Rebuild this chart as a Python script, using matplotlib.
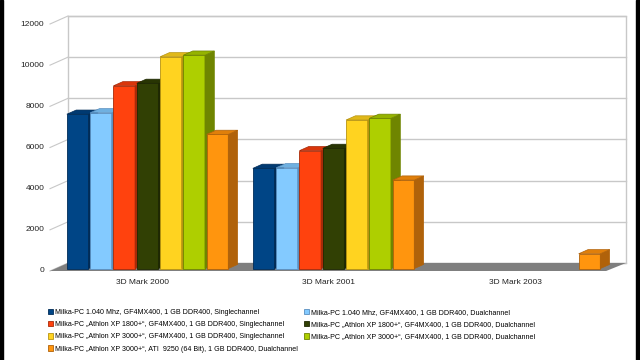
"""Pseudo-3D grouped bar chart: 3D Mark scores for several Milka-PC configurations."""
import matplotlib.pyplot as plt
from matplotlib.patches import Polygon, Rectangle

plt.rcParams["font.family"] = ["Liberation Sans", "DejaVu Sans"]

CATEGORIES = ["3D Mark 2000", "3D Mark 2001", "3D Mark 2003"]
SERIES = [
    "Milka-PC 1.040 Mhz, GF4MX400, 1 GB DDR400, Singlechannel",
    "Milka-PC 1.040 Mhz, GF4MX400, 1 GB DDR400, Dualchannel",
    "Milka-PC „Athlon XP 1800+“, GF4MX400, 1 GB DDR400, Singlechannel",
    "Milka-PC „Athlon XP 1800+“, GF4MX400, 1 GB DDR400, Dualchannel",
    "Milka-PC „Athlon XP 3000+“, GF4MX400, 1 GB DDR400, Singlechannel",
    "Milka-PC „Athlon XP 3000+“, GF4MX400, 1 GB DDR400, Dualchannel",
    "Milka-PC „Athlon XP 3000+“, ATI  9250 (64 Bit), 1 GB DDR400, Dualchannel",
]
VALUES = [
    [7500, 4870, 0],
    [7570, 4900, 0],
    [8880, 5730, 0],
    [9000, 5840, 0],
    [10290, 7220, 0],
    [10370, 7300, 0],
    [6520, 4300, 720],
]
FRONT = ["#004586", "#83caff", "#ff420e", "#314004", "#ffd320", "#aecf00", "#ff950e"]
TOP = ["#003a72", "#6fb0e0", "#d9360b", "#283503", "#e0b81a", "#95b300", "#e07f0a"]
SIDE = ["#002c58", "#5a8fbf", "#a82a08", "#1e2802", "#b89410", "#6f8500", "#b0620a"]
YTICKS = [0, 2000, 4000, 6000, 8000, 10000, 12000]

# depth of the chart box (data units) and the bars' place inside it
DX, DY = 0.097, 390
F0, F1 = 0.3, 0.82
PITCH = 0.1253
WIDTH = 0.116


def main():
    fig = plt.figure(figsize=(6.4, 3.6), dpi=100)
    fig.patch.set_facecolor("white")
    fig.patches.append(Rectangle((0, 0), 3 / 640, 1, transform=fig.transFigure,
                                 color="black", zorder=10))
    fig.patches.append(Rectangle((636 / 640, 0), 4 / 640, 1, transform=fig.transFigure,
                                 color="black", zorder=10))

    ax = fig.add_axes([50 / 640, 89 / 360, 558 / 640, 247 / 360])
    ax.set_xlim(0, 3)
    ax.set_ylim(0, 12000)
    ax.axis("off")

    # back wall with grid lines and left wall ticks
    ax.add_patch(Polygon([(DX, DY), (3 + DX, DY), (3 + DX, 12000 + DY), (DX, 12000 + DY)],
                         closed=True, facecolor="white", edgecolor="#c8c8c8",
                         lw=1.0, clip_on=False, zorder=1))
    for t in YTICKS:
        ax.plot([DX, 3 + DX], [t + DY, t + DY], color="#c8c8c8", lw=1.0,
                clip_on=False, zorder=1)
        ax.plot([0, DX], [t, t + DY], color="#c8c8c8", lw=0.8,
                clip_on=False, zorder=1)
        ax.text(-0.03, t, str(t), ha="right", va="center", fontsize=6.0,
                color="#222222")

    # floor
    ax.add_patch(Polygon([(0, 0), (3 - 0.01, 0), (3 + DX, DY), (DX, DY)], closed=True,
                         facecolor="#7f7f7f", edgecolor="none", clip_on=False, zorder=2))

    for i, cat in enumerate(CATEGORIES):
        ax.text(i + 0.5, -380, cat, ha="center", va="top", fontsize=6.0, color="#222222")

    handles = []
    ddx = (F1 - F0) * DX
    ddy = (F1 - F0) * DY
    for j, vals in enumerate(VALUES):
        xs = [i + 0.5 - 3.5 * PITCH + j * PITCH + F0 * DX for i in range(len(CATEGORIES))]
        bars = ax.bar(xs, vals, width=WIDTH, bottom=F0 * DY, align="edge",
                      color=FRONT[j], edgecolor=SIDE[j], lw=0.6, zorder=3 + j,
                      clip_on=False, label=SERIES[j])
        handles.append(bars)
        for b, v in zip(bars, vals):
            if v <= 0:
                b.set_visible(False)
                continue
            xl = b.get_x()
            xr = xl + b.get_width()
            y0 = b.get_y()
            y1 = y0 + b.get_height()
            ax.add_patch(Polygon([(xr, y0), (xr + ddx, y0 + ddy), (xr + ddx, y1 + ddy),
                                  (xr, y1)], closed=True, facecolor=SIDE[j],
                                 edgecolor=SIDE[j], lw=0.5, clip_on=False, zorder=3 + j))
            ax.add_patch(Polygon([(xl, y1), (xr, y1), (xr + ddx, y1 + ddy),
                                  (xl + ddx, y1 + ddy)], closed=True, facecolor=TOP[j],
                                 edgecolor=SIDE[j], lw=0.5, clip_on=False, zorder=3 + j))

    order = [0, 2, 4, 6, 1, 3, 5]
    fig.legend([handles[k] for k in order], [SERIES[k] for k in order],
               loc="upper left", bbox_to_anchor=(48 / 640, 1 - 309 / 360), ncol=2,
               frameon=False, fontsize=5.1, handlelength=0.75, handleheight=0.75,
               handletextpad=0.3, columnspacing=0.75, labelspacing=0.72,
               borderaxespad=0, borderpad=0)

    fig.savefig("out.png", dpi=100)


if __name__ == "__main__":
    main()
